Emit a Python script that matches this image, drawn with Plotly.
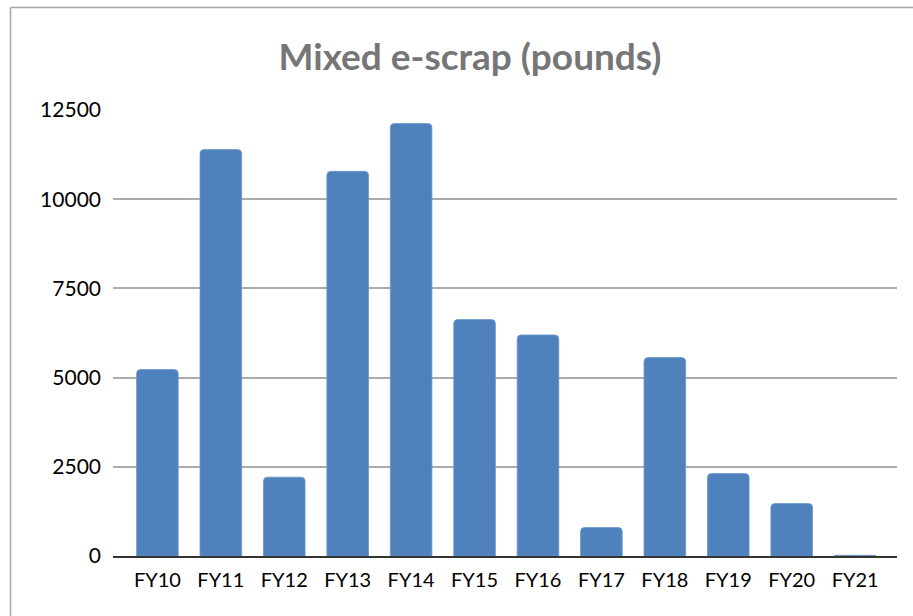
import plotly.graph_objects as go

categories = ["FY10", "FY11", "FY12", "FY13", "FY14", "FY15", "FY16", "FY17", "FY18", "FY19", "FY20", "FY21"]
pounds = [5225, 11390, 2210, 10780, 12120, 6625, 6195, 800, 5560, 2310, 1470, 20]
y_ticks = [0, 2500, 5000, 7500, 10000, 12500]

W, H = 913, 616
L, R, T, B = 113, 16, 110, 60
pw, ph = W - L - R, H - T - B

def px_x(px):
    return (px - L) / pw

def px_y(py):
    return (H - B - py) / ph

fig = go.Figure(go.Bar(
    x=categories, y=pounds,
    marker=dict(color="#4f81bd", line=dict(color="#6d96c9", width=0.8)),
))

fig.update_layout(
    width=W, height=H,
    margin=dict(l=L, r=R, t=T, b=B),
    paper_bgcolor="white", plot_bgcolor="white",
    bargap=0.344,
    barcornerradius=4,
    showlegend=False,
    font=dict(family="Lato, 'Open Sans', sans-serif", color="#000000", size=20),
    title=dict(text="<b>Mixed e-scrap (pounds)</b>", x=px_x(470), xref="paper",
               y=1 - 57 / H, yref="container", xanchor="center", yanchor="middle",
               font=dict(family="Lato, sans-serif", size=37, color="#767676")),
    shapes=[
        dict(type="line", xref="paper", yref="paper", x0=px_x(10.5), x1=px_x(10.5),
             y0=px_y(640), y1=px_y(7.5), line=dict(color="#a6a6a6", width=1.5)),
        dict(type="line", xref="paper", yref="paper", x0=px_x(10.5), x1=px_x(940),
             y0=px_y(7.5), y1=px_y(7.5), line=dict(color="#a6a6a6", width=1.5)),
    ],
)

fig.update_yaxes(range=[0, 12500], tickvals=y_ticks, ticktext=[str(v) for v in y_ticks],
                 showgrid=True, gridcolor="#ababab", gridwidth=1.6,
                 zeroline=False, showline=False, ticks="", ticklabelstandoff=11,
                 tickfont=dict(size=21, color="#000000"))
fig.update_xaxes(range=[-0.70, 11.66], showline=True, linecolor="#333333", linewidth=1.8,
                 ticks="", showgrid=False, ticklabelstandoff=5,
                 tickfont=dict(size=20, color="#000000"))

fig.write_html("out.html", post_script="document.body.style.margin='0';",
               config={"displayModeBar": False})
